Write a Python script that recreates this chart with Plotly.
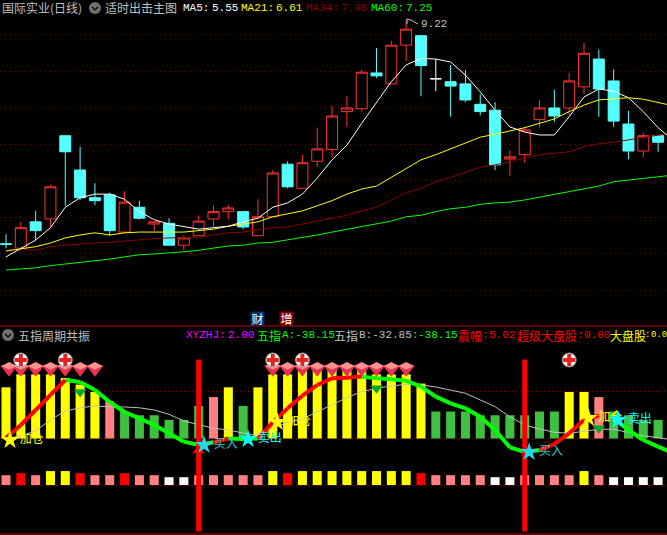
import plotly.graph_objects as go

W, H = 667, 535
SPLIT = 326

# === DATOS PANEL SUPERIOR (precio) ===
idx = list(range(45))
ma_idx = list(range(46))
opens = [6.14, 6.08, 6.44, 6.48, 7.62, 7.15, 6.77, 6.81, 6.30, 6.64, 6.41, 6.42, 6.12, 6.25, 6.48,
         6.58, 6.58, 6.25, 6.51, 7.23, 6.90, 7.27, 7.43, 7.95, 7.99, 8.48, 8.33, 8.86, 8.99, 8.40,
         8.36, 8.33, 8.05, 7.97, 7.30, 7.36, 7.84, 8.00, 8.00, 8.29, 8.67, 8.37, 7.78, 7.41, 7.62]
closes = [6.13, 6.36, 6.32, 6.92, 7.40, 6.77, 6.73, 6.32, 6.71, 6.49, 6.44, 6.12, 6.22, 6.45, 6.58,
          6.63, 6.37, 6.51, 7.11, 6.92, 7.25, 7.44, 7.89, 8.00, 8.49, 8.44, 8.86, 9.08, 8.58, 8.40,
          8.30, 8.11, 7.95, 7.22, 7.33, 7.70, 8.00, 7.89, 8.37, 8.75, 8.26, 7.82, 7.41, 7.62, 7.53]
highs = [6.27, 6.44, 6.59, 6.95, 7.62, 7.47, 6.97, 6.84, 6.86, 6.73, 6.45, 6.49, 6.25, 6.53, 6.67,
         6.67, 6.58, 6.75, 7.15, 7.27, 7.36, 7.73, 8.03, 8.16, 8.52, 8.82, 8.92, 9.22, 9.00, 8.67,
         8.59, 8.52, 8.19, 8.08, 7.42, 7.74, 8.11, 8.25, 8.48, 8.89, 8.80, 8.53, 7.96, 7.66, 7.63]
lows = [6.08, 6.08, 6.19, 6.36, 6.66, 6.74, 6.67, 6.25, 6.29, 6.47, 6.32, 6.12, 6.05, 6.25, 6.36,
        6.47, 6.34, 6.25, 6.51, 6.90, 6.90, 7.19, 7.33, 7.74, 7.95, 8.41, 8.33, 8.64, 8.16, 8.23,
        7.88, 8.08, 7.90, 7.15, 7.07, 7.25, 7.73, 7.81, 7.90, 8.19, 7.88, 7.74, 7.30, 7.33, 7.40]
white_doji = 29

ma5 = [5.96, 6.08, 6.19, 6.36, 6.64, 6.77, 6.82, 6.82, 6.75, 6.58, 6.47, 6.41, 6.38, 6.34, 6.36, 6.38,
       6.44, 6.49, 6.64, 6.70, 6.82, 7.04, 7.29, 7.49, 7.79, 8.07, 8.36, 8.59, 8.68, 8.67, 8.63, 8.45,
       8.22, 7.97, 7.74, 7.67, 7.63, 7.63, 7.88, 8.15, 8.26, 8.23, 8.14, 7.95, 7.73, 7.56]
ma21 = [6.04, 6.07, 6.10, 6.15, 6.22, 6.26, 6.29, 6.26, 6.29, 6.30, 6.30, 6.30, 6.30, 6.32, 6.34, 6.38,
        6.41, 6.44, 6.51, 6.55, 6.59, 6.66, 6.73, 6.82, 6.89, 6.93, 7.05, 7.16, 7.29, 7.36, 7.44, 7.51,
        7.60, 7.64, 7.68, 7.73, 7.79, 7.85, 7.95, 8.04, 8.11, 8.12, 8.14, 8.12, 8.08, 8.03]
ma34 = [6.05, 6.07, 6.05, 6.10, 6.12, 6.14, 6.15, 6.16, 6.18, 6.19, 6.21, 6.22, 6.22, 6.23, 6.26, 6.29,
        6.30, 6.33, 6.36, 6.37, 6.41, 6.44, 6.48, 6.53, 6.59, 6.64, 6.74, 6.84, 6.90, 6.99, 7.05, 7.12,
        7.19, 7.22, 7.26, 7.32, 7.36, 7.38, 7.40, 7.47, 7.51, 7.53, 7.56, 7.60, 7.63, 7.66]
ma60 = [5.78, 5.79, 5.81, 5.84, 5.86, 5.89, 5.90, 5.93, 5.96, 5.99, 6.00, 6.01, 6.03, 6.05, 6.08, 6.11,
        6.12, 6.15, 6.16, 6.19, 6.23, 6.26, 6.30, 6.34, 6.37, 6.41, 6.45, 6.51, 6.53, 6.58, 6.62, 6.64,
        6.68, 6.70, 6.71, 6.74, 6.78, 6.81, 6.85, 6.89, 6.93, 6.99, 7.01, 7.04, 7.05, 7.08]

# === DATOS PANEL INFERIOR ===
bar_vals = [55, 69, 69, 69, 65, 58, 50, 40, 29, 25, 25, 20, 20, 35, 44.5, 55, 35, 55, 69, 69, 74.5, 74.5, 74.5,
            74.5, 74.5, 69, 69, 69, 59, 29, 29, 29, 25, 25, 25, 25, 29, 29, 50, 50, 44.5, 29, 25, 20, 20]
bar_kinds = list("yyyyyyy" + "p" + "gggggg" + "p" + "ygy" + "yyyyyyyyyyy" + "ggggggggg" + "yy" + "p" + "gggg")
square_kinds = list("prpyyrpprppwwpppppyryyyyyyyyrppppwwppppypwwww")
square_heights = {"y": 15, "r": 12.7, "p": 10.6, "w": 8.4}

line_a = [0.5, 14.5, 30.6, 46.8, 62.9, 60.7, 52.1, 39.2, 28.5, 21.7, 14.5, 5.6, -3.4, -7, -4, 0, -0.5, 0, 17.4,
          32.4, 46, 57.5, 64.7, 65.4, 66.5, 64.7, 63.6, 62.1, 55.7, 45, 37.8, 32.4, 23.4, 9.1, -9.5, -14.5, -12.4,
          -5.9, 5.6, 19.9, 24.5, 21.7, 9.1, -1.6, -8.8, -15.6]
line_b = [-0.5, 3, 8, 20, 29.5, 33, 35, 33.9, 33.9, 33, 30.6, 26, 18.8, 14.5, 11, 9.1, 5.6, 2.7, 11, 17.4, 21, 28.8,
          36, 43.9, 50.3, 54, 56.4, 58.3, 57.5, 55.4, 52, 48.6, 41.4, 34.2, 23.4, 14.5, 10.2, 6.7, 5.6, 8, 9.9, 9.9,
          6.7, 3, 0.9, -1.6]
# r sube, g baja, n sin linea (tramo i -> i+1)
seg_kinds = list("rrrr" + "g" * 10 + "r" + "gg" + "r" * 7 + "g" * 12 + "rrrr" + "n" + "gggg")

gem_x = [0.2, 1, 2, 3, 4, 5, 6, 18, 19, 20, 21, 22, 23, 24, 25, 26, 27]
plus_x = [1, 4, 18, 20, 38]
arrow_x = [5, 25, 40]
arrow_y = [50, 54, 11]
vline_x = [13, 35]
vline_top, vline_bottom = 85, -100

star_x = [0.27, 18.3, 39.3, 13.36, 16.33, 35.3, 41.3]
star_y = [-1.6, 17.7, 22, -7, -0.5, -14.5, 20]
star_txt = ["加仓", "加仓", "加仓", "买入", "卖出", "买入", "卖出"]
star_col = ["#FFFF00", "#FFFF00", "#FFFF00", "#20D8E8", "#00FFFF", "#20D8E8", "#00FFFF"]
txt_col = ["#FFFF00", "#FFFF00", "#FFFF00", "#30C8C8", "#00FFFF", "#30C8C8", "#00FFFF"]

COLORS = {"y": "#FFFF00", "p": "#FF8080", "g": "#40C040", "r": "#FF0000", "w": "#FFFFFF"}
RED, CYAN = "#FF3232", "#54FFFF"

fig = go.Figure()

# === PANEL SUPERIOR ===
body_x = [i for i in idx if i != white_doji]
pick = lambda vals: [vals[i] for i in body_x]
fig.add_trace(go.Candlestick(
    x=body_x, open=pick(opens), high=pick(highs), low=pick(lows), close=pick(closes),
    increasing=dict(line=dict(color=RED, width=1), fillcolor="#000000"),
    decreasing=dict(line=dict(color=CYAN, width=1), fillcolor=CYAN),
    whiskerwidth=0, showlegend=False))
fig.add_trace(go.Candlestick(
    x=[white_doji], open=[opens[white_doji]], high=[highs[white_doji]], low=[lows[white_doji]],
    close=[closes[white_doji]],
    increasing=dict(line=dict(color="#FFFFFF", width=1), fillcolor="#FFFFFF"),
    decreasing=dict(line=dict(color="#FFFFFF", width=1), fillcolor="#FFFFFF"),
    whiskerwidth=0, showlegend=False))
for vals, col in [(ma60, "#00FF00"), (ma34, "#8B0000"), (ma21, "#FFFF00"), (ma5, "#FFFFFF")]:
    fig.add_trace(go.Scatter(x=ma_idx, y=vals, mode="lines", line=dict(color=col, width=1), showlegend=False))

# === PANEL INFERIOR ===
fig.add_trace(go.Bar(x=idx, y=bar_vals, width=0.61, yaxis="y2", showlegend=False,
                     marker=dict(color=[COLORS[k] for k in bar_kinds], line_width=0)))
fig.add_trace(go.Bar(x=idx, y=[square_heights[k] for k in square_kinds], base=-50, width=0.61, yaxis="y2",
                     showlegend=False, marker=dict(color=[COLORS[k] for k in square_kinds], line_width=0)))
fig.add_trace(go.Scatter(x=ma_idx, y=line_b, mode="lines", yaxis="y2", showlegend=False,
                         line=dict(color="#C0C0C0", width=1)))
for kind, col in [("g", "#00FF00"), ("r", "#FF0000")]:
    xs, ys = [], []
    for i, k in enumerate(seg_kinds):
        if k == kind:
            xs += [i, i + 1, None]
            ys += [line_a[i], line_a[i + 1], None]
    fig.add_trace(go.Scatter(x=xs, y=ys, mode="lines", yaxis="y2", showlegend=False,
                             line=dict(color=col, width=4)))
for vx in vline_x:
    fig.add_trace(go.Scatter(x=[vx, vx], y=[vline_bottom, vline_top], mode="lines", yaxis="y2", showlegend=False,
                             line=dict(color="#FF0000", width=5)))

# gemas
fig.add_trace(go.Scatter(x=gem_x, y=[74.5] * len(gem_x), mode="markers", yaxis="y2", showlegend=False,
                         marker=dict(symbol="triangle-down", size=15, color="#E8304F", line_width=0)))
fig.add_trace(go.Scatter(x=gem_x, y=[78] * len(gem_x), mode="markers", yaxis="y2", showlegend=False,
                         marker=dict(symbol="diamond-wide", size=11, color="#FF9090", line_width=0)))
# signos +
fig.add_trace(go.Scatter(x=plus_x, y=[84.4] * len(plus_x), mode="markers", yaxis="y2", showlegend=False,
                         marker=dict(symbol="circle", size=14, color="#FFFFFF", line=dict(color="#909090", width=1))))
fig.add_trace(go.Scatter(x=plus_x, y=[84.4] * len(plus_x), mode="markers", yaxis="y2", showlegend=False,
                         marker=dict(symbol="cross", size=10, color="#E82020", line_width=0)))
# flechas
fig.add_trace(go.Scatter(x=arrow_x, y=arrow_y, mode="markers", yaxis="y2", showlegend=False,
                         marker=dict(symbol="triangle-down", size=11, color="#00A828", line_width=0)))
fig.add_trace(go.Scatter(x=[13], y=[-13], mode="markers", yaxis="y2", showlegend=False,
                         marker=dict(symbol="triangle-up", size=11, color="#FF0000", line_width=0)))
# estrellas
for x, y, t, sc, tc in zip(star_x, star_y, star_txt, star_col, txt_col):
    fig.add_trace(go.Scatter(x=[x], y=[y], mode="markers+text", yaxis="y2", showlegend=False,
                             marker=dict(symbol="star", size=14, color=sc, line_width=0),
                             text=[t], textposition="middle right",
                             textfont=dict(color=tc, size=12, family="Noto Sans CJK SC")))


# === TEXTOS ===
def px(x):
    return x / W


def py(y):
    return 1 - y / H


def label(x, y, text, color, mono=False, size=None):
    fig.add_annotation(xref="paper", yref="paper", x=px(x - 2), y=py(y), text=text, showarrow=False,
                       xanchor="left", yanchor="middle",
                       font=dict(color=color, size=size or (11 if mono else 12),
                                 family="Liberation Mono" if mono else "Noto Sans CJK SC"))


def icon(cx, cy):
    fig.add_shape(type="circle", xref="paper", yref="paper", x0=px(cx - 6), x1=px(cx + 6), y0=py(cy + 6),
                  y1=py(cy - 6), fillcolor="#707070", line_width=0)
    fig.add_shape(type="path", xref="paper", yref="paper", line=dict(color="#000000", width=1.2),
                  path=f"M {px(cx - 3)} {py(cy - 1)} L {px(cx)} {py(cy + 2)} L {px(cx + 3)} {py(cy - 1)}")


label(2, 8, "国际实业(日线)", "#C0C0C0")
icon(95, 8)
label(105, 8, "适时出击主图", "#C0C0C0")
label(183, 8, "MA5:", "#FFFFFF", True)
label(212, 8, "5.55", "#FFFFFF", True)
label(241, 8, "MA21:", "#FFFF00", True)
label(276, 8, "6.61", "#FFFF00", True)
label(306, 8, "MA34:", "#8B0000", True)
label(341, 8, "7.08", "#8B0000", True)
label(371, 8, "MA60:", "#00FF00", True)
label(406, 8, "7.25", "#00FF00", True)
label(421, 24, "9.22", "#C0C0C0", True)
fig.add_shape(type="path", xref="paper", yref="paper", line=dict(color="#C0C0C0", width=1),
              path=f"M {px(407)} {py(24)} L {px(407)} {py(19)} L {px(411)} {py(20)} L {px(418)} {py(24)}")

icon(8, 335)
label(18, 335, "五指周期共振", "#C0C0C0")
label(186, 335, "XYZHJ:", "#FF00FF", True)
label(228, 335, "2.00", "#FF00FF", True)
label(257, 335, "五指", "#00FF00")
label(282, 335, "A:-38.15", "#00FF00", True)
label(334, 335, "五指", "#C0C0C0")
label(359, 335, "B:-32.85", "#C0C0C0", True)
label(412, 335, ":", "#00FF00", True)
label(418, 335, "-38.15", "#00FF00", True)
label(458, 335, "震幅", "#FF0000")
label(482, 335, ":", "#FF0000", True)
label(489, 335, "5.02", "#FF0000", True)
label(517, 335, "超级大盘股", "#FF0000")
label(577, 335, ":", "#FF0000", True)
label(584, 335, "0.00", "#FF0000", True)
label(610, 335, "大盘股", "#FFFF00")
label(645, 335, ":", "#FFFF00", True, 9)
label(651, 335, "0.0", "#FFFF00", True, 9)

for x, t, bg in [(257.5, "财", "#003070"), (286.5, "增", "#800000")]:
    fig.add_annotation(xref="paper", yref="paper", x=px(x), y=py(318.5), text=t, showarrow=False,
                       width=13, height=13, bgcolor=bg, borderpad=0,
                       font=dict(color="#FFFFFF", size=12, family="Noto Sans CJK SC"))

# separadores
for y in [SPLIT, 534]:
    fig.add_shape(type="line", xref="paper", yref="paper", x0=0, x1=1, y0=py(y), y1=py(y),
                  line=dict(color="#C00000", width=1))

fig.update_layout(
    width=W, height=H, margin=dict(l=0, r=0, t=0, b=0),
    paper_bgcolor="#000000", plot_bgcolor="#000000",
    barmode="overlay", boxgap=0.26, boxgroupgap=0, showlegend=False, dragmode=False,
    xaxis=dict(range=[-0.405, 44.6], visible=False, rangeslider=dict(visible=False)),
    yaxis=dict(domain=[(H - SPLIT) / H, 1], range=[9.479 - SPLIT / 73, 9.479], tick0=5.5, dtick=0.5,
               showticklabels=False, zeroline=False, ticks="", showline=False,
               gridcolor="#800000", griddash="1px,4px", gridwidth=1),
    yaxis2=dict(domain=[0, (H - SPLIT) / H], range=[-103.7, 120.9], tickvals=[-50, 0, 50],
                showticklabels=False, zeroline=False, ticks="", showline=False,
                gridcolor="#800000", griddash="1px,3px", gridwidth=1),
)

fig.write_html("out.html", config=dict(displayModeBar=False),
               post_script="document.body.style.margin='0';document.documentElement.style.overflow='hidden';")
